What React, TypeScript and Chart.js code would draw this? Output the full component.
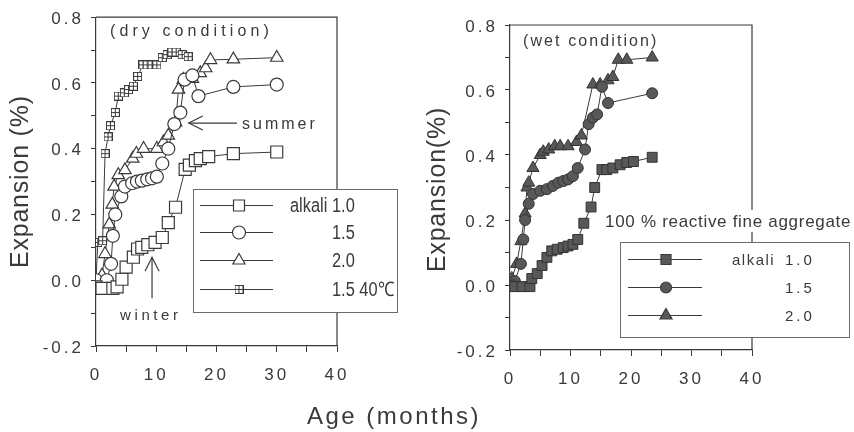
import React, { useEffect, useRef } from 'react';
import { Chart, registerables } from 'chart.js';

Chart.register(...registerables);

const W = 854;
const H = 432;
const FONT = "'Liberation Sans', Arial, Helvetica, sans-serif";
const INK = '#3a3a3a';
const FILL_DARK = '#585858';

// ---- axis settings ----
const X_MIN = 0;
const X_MAX = 40;
const X_STEP = 5;
const X_LABEL_EVERY = 10;
const Y_MIN = -0.2;
const Y_MAX = 0.8;
const Y_STEP = 0.1;

// ---- dry condition (left) ----
const dryMonthsA10 = [0, 1.0, 2.8, 3.5, 4.3, 5.0, 6.2, 6.9, 7.6, 8.6, 9.8, 11.0, 12.0, 13.2, 14.8, 15.5, 16.5, 17.3, 18.7, 22.8, 30.0];
const dryExpA10 = [-0.02, -0.025, -0.025, -0.02, 0.003, 0.04, 0.07, 0.095, 0.1, 0.108, 0.115, 0.13, 0.175, 0.222, 0.337, 0.35, 0.364, 0.37, 0.376, 0.385, 0.39];

const dryMonthsA15 = [0, 1.8, 2.5, 2.8, 3.2, 4.2, 4.8, 6.0, 6.8, 7.6, 8.5, 9.3, 10.1, 11.0, 12.0, 13.0, 14.0, 14.7, 16.0, 17.0, 22.8, 30.0];
const dryExpA15 = [0, 0.0, 0.05, 0.135, 0.2, 0.255, 0.285, 0.295, 0.3, 0.303, 0.307, 0.31, 0.315, 0.355, 0.4, 0.475, 0.51, 0.61, 0.623, 0.56, 0.588, 0.595];

const dryMonthsA20 = [0, 1.0, 1.5, 2.2, 2.7, 3.0, 3.7, 4.8, 6.1, 6.7, 7.9, 10.1, 11.2, 12.0, 13.2, 13.7, 14.5, 16.0, 17.3, 18.2, 19.0, 22.8, 30.0];
const dryExpA20 = [0, 0.015, 0.08, 0.17, 0.23, 0.285, 0.32, 0.335, 0.37, 0.385, 0.4, 0.4, 0.42, 0.44, 0.48, 0.58, 0.61, 0.613, 0.63, 0.645, 0.67, 0.672, 0.677];

const dryMonthsA15H = [0, 0.3, 1.1, 1.5, 2.0, 2.4, 3.2, 3.7, 4.7, 5.4, 6.2, 6.9, 7.8, 8.5, 9.3, 10.1, 11.0, 11.8, 12.6, 13.3, 14.3, 15.3];
const dryExpA15H = [0, 0.115, 0.12, 0.385, 0.436, 0.47, 0.51, 0.56, 0.57, 0.58, 0.59, 0.62, 0.655, 0.655, 0.655, 0.655, 0.677, 0.686, 0.694, 0.694, 0.686, 0.68];

// ---- wet condition (right) ----
const wetMonthsA10 = [0, 0.8, 2.0, 3.3, 3.6, 4.5, 5.3, 6.1, 6.9, 7.8, 8.8, 9.6, 10.4, 11.2, 12.2, 13.4, 14.0, 15.2, 16.0, 17.0, 18.2, 19.3, 20.4, 23.5];
const wetExpA10 = [0, -0.005, -0.005, -0.005, 0.02, 0.035, 0.06, 0.085, 0.105, 0.11, 0.115, 0.12, 0.125, 0.14, 0.19, 0.24, 0.3, 0.355, 0.355, 0.36, 0.37, 0.377, 0.38, 0.393];

const wetMonthsA15 = [0, 0.8, 1.8, 2.2, 2.5, 3.1, 3.8, 5.0, 6.1, 7.1, 8.0, 8.8, 9.6, 10.4, 11.2, 12.4, 13.0, 13.7, 14.4, 15.2, 16.2, 23.5];
const wetExpA15 = [0, 0.012, 0.065, 0.14, 0.2, 0.25, 0.28, 0.29, 0.295, 0.305, 0.315, 0.32, 0.325, 0.335, 0.36, 0.417, 0.495, 0.515, 0.525, 0.61, 0.56, 0.59];

const wetMonthsA20 = [0, 0.3, 1.1, 1.8, 2.5, 2.8, 3.1, 3.8, 5.0, 5.5, 6.4, 7.4, 8.3, 9.6, 11.0, 11.8, 13.7, 14.9, 16.2, 17.0, 17.9, 19.3, 23.5];
const wetExpA20 = [0, 0.02, 0.065, 0.135, 0.22, 0.3, 0.315, 0.36, 0.4, 0.41, 0.417, 0.427, 0.427, 0.427, 0.44, 0.46, 0.617, 0.617, 0.63, 0.64, 0.693, 0.693, 0.7];

const dryLabels = ['alkali 1.0', '1.5', '2.0', '1.5 40\u2103'];
const wetLabels = ['alkali 1.0', '1.5', '2.0'];

const zip = (xs: number[], ys: number[]) => xs.map((x, i) => ({ x, y: ys[i] }));

function makeCrossSquare(size: number) {
  const c = document.createElement('canvas');
  c.width = size;
  c.height = size;
  const g = c.getContext('2d')!;
  g.fillStyle = '#fff';
  g.fillRect(0, 0, size, size);
  g.strokeStyle = INK;
  g.lineWidth = 1;
  g.strokeRect(0.5, 0.5, size - 1, size - 1);
  const m = Math.floor(size / 2) + 0.5;
  g.beginPath();
  g.moveTo(0.5, m);
  g.lineTo(size - 0.5, m);
  g.moveTo(m, 0.5);
  g.lineTo(m, size - 0.5);
  g.stroke();
  return c;
}

function txt(ctx: any, s: string, x: number, y: number, size: number, spacing: number, align = 'left', sx = 1) {
  ctx.save();
  ctx.translate(x, y);
  ctx.scale(sx, 1);
  ctx.font = `${size}px ${FONT}`;
  ctx.letterSpacing = `${spacing}px`;
  ctx.fillStyle = INK;
  ctx.textAlign = align;
  ctx.textBaseline = 'alphabetic';
  ctx.fillText(s, 0, 0);
  ctx.restore();
}

function marker(ctx: any, kind: string, x: number, y: number, filled: boolean, cross?: HTMLCanvasElement) {
  ctx.save();
  ctx.strokeStyle = INK;
  ctx.lineWidth = 1.2;
  ctx.fillStyle = filled ? FILL_DARK : '#fff';
  ctx.beginPath();
  if (kind === 'rect') {
    const s = filled ? 5 : 5.5;
    ctx.rect(x - s, y - s, 2 * s, 2 * s);
  } else if (kind === 'circle') {
    ctx.arc(x, y, filled ? 5.5 : 6.5, 0, Math.PI * 2);
  } else if (kind === 'triangle') {
    const r = 7;
    ctx.moveTo(x, y - r);
    ctx.lineTo(x + r * Math.sin((2 * Math.PI) / 3), y - r * Math.cos((2 * Math.PI) / 3));
    ctx.lineTo(x + r * Math.sin((4 * Math.PI) / 3), y - r * Math.cos((4 * Math.PI) / 3));
    ctx.closePath();
  } else if (kind === 'cross' && cross) {
    ctx.drawImage(cross, x - cross.width / 2, y - cross.height / 2);
    ctx.restore();
    return;
  }
  ctx.fill();
  ctx.stroke();
  ctx.restore();
}

function scalesFor(yWidth: number, xHeight: number) {
  const tickFont = { family: FONT, size: 17 };
  return {
    x: {
      type: 'linear',
      min: X_MIN,
      max: X_MAX,
      afterFit: (s: any) => { s.height = xHeight; },
      ticks: {
        stepSize: X_STEP,
        autoSkip: false,
        maxRotation: 0,
        font: tickFont,
        color: INK,
        padding: 13,
        callback: (v: any) => (Number(v) % X_LABEL_EVERY === 0 ? String(v) : ''),
      },
      grid: { drawOnChartArea: false, drawTicks: true, tickLength: 6, color: INK, lineWidth: 1 },
      border: { color: INK, width: 1.2 },
    },
    y: {
      type: 'linear',
      min: Y_MIN,
      max: Y_MAX,
      afterFit: (s: any) => { s.width = yWidth; },
      ticks: {
        stepSize: Y_STEP,
        autoSkip: false,
        font: tickFont,
        color: INK,
        padding: 7,
        labelOffset: 2,
        callback: (v: any) => {
          const k = Math.round(Number(v) * 10);
          return k % 2 === 0 ? (k / 10).toFixed(1) : '';
        },
      },
      grid: { drawOnChartArea: false, drawTicks: true, tickLength: 5, color: INK, lineWidth: 1 },
      border: { color: INK, width: 1.2 },
    },
  };
}

function frame(ctx: any, a: any) {
  ctx.save();
  ctx.strokeStyle = INK;
  ctx.lineWidth = 1.2;
  ctx.beginPath();
  ctx.moveTo(a.left, a.top);
  ctx.lineTo(a.right, a.top);
  ctx.lineTo(a.right, a.bottom);
  ctx.stroke();
  ctx.restore();
}

function legendBox(ctx: any, x: number, y: number, w: number, h: number) {
  ctx.save();
  ctx.fillStyle = '#fff';
  ctx.fillRect(x, y, w, h);
  ctx.strokeStyle = '#6a6a6a';
  ctx.lineWidth = 1;
  ctx.strokeRect(x + 0.5, y + 0.5, w, h);
  ctx.restore();
}

function legendLine(ctx: any, x1: number, x2: number, y: number) {
  ctx.save();
  ctx.strokeStyle = INK;
  ctx.lineWidth = 1;
  ctx.beginPath();
  ctx.moveTo(x1, y + 0.5);
  ctx.lineTo(x2, y + 0.5);
  ctx.stroke();
  ctx.restore();
}

function arrowHead(ctx: any, tx: number, ty: number, dx: number, dy: number) {
  const L = 14;
  const Wd = 7;
  const bx = tx - dx * L;
  const by = ty - dy * L;
  ctx.beginPath();
  ctx.moveTo(bx - dy * Wd, by + dx * Wd);
  ctx.lineTo(tx, ty);
  ctx.lineTo(bx + dy * Wd, by - dx * Wd);
  ctx.stroke();
}

function leftConfig(cross: HTMLCanvasElement): any {
  const common = { borderColor: INK, borderWidth: 1, pointBorderColor: INK, pointBorderWidth: 1.2, pointBackgroundColor: '#fff', tension: 0, fill: false };
  const decor = {
    id: 'leftDecor',
    beforeDraw(chart: any) { chart.ctx.letterSpacing = '3px'; },
    afterDraw(chart: any) {
      const { ctx, chartArea: a, scales } = chart;
      const xs = scales.x;
      const ys = scales.y;
      ctx.save();
      ctx.letterSpacing = '0px';
      frame(ctx, a);
      txt(ctx, '(dry condition)', 110, 36, 16, 4.1);

      // summer arrow
      ctx.strokeStyle = INK;
      ctx.lineWidth = 1.2;
      const sy = ys.getPixelForValue(0.478);
      const sTip = xs.getPixelForValue(15.4);
      const sTail = xs.getPixelForValue(23.4);
      ctx.beginPath();
      ctx.moveTo(sTail, sy);
      ctx.lineTo(sTip, sy);
      ctx.stroke();
      arrowHead(ctx, sTip, sy, -1, 0);
      txt(ctx, 'summer', sTail + 5, sy + 6, 16, 3);

      // winter arrow
      const wx = xs.getPixelForValue(9.3);
      const wTip = ys.getPixelForValue(0.07);
      const wTail = ys.getPixelForValue(-0.055);
      ctx.beginPath();
      ctx.moveTo(wx, wTail);
      ctx.lineTo(wx, wTip);
      ctx.stroke();
      arrowHead(ctx, wx, wTip, 0, -1);
      txt(ctx, 'winter', wx - 32, wTail + 22, 15, 3.6);

      // legend (narrow lettering)
      legendBox(ctx, 193, 189, 204, 123);
      const rowsY = [205, 232, 260, 289];
      const kinds = ['rect', 'circle', 'triangle', 'cross'];
      rowsY.forEach((ry, i) => {
        legendLine(ctx, 200, 273, ry);
        marker(ctx, kinds[i], 239, ry + 0.5, false, cross);
      });
      const NX = 0.82;
      txt(ctx, 'alkali', 290, rowsY[0] + 7, 20, 0, 'left', NX);
      txt(ctx, dryLabels[0].split(' ')[1], 332, rowsY[0] + 7, 20, 0, 'left', NX);
      txt(ctx, dryLabels[1], 332, rowsY[1] + 7, 20, 0, 'left', NX);
      txt(ctx, dryLabels[2], 332, rowsY[2] + 7, 20, 0, 'left', NX);
      txt(ctx, dryLabels[3], 332, rowsY[3] + 7, 20, 0, 'left', NX);

      // y title
      ctx.save();
      ctx.translate(28, (a.top + a.bottom) / 2);
      ctx.rotate(-Math.PI / 2);
      txt(ctx, 'Expansion (%)', 0, 0, 25, 0.8, 'center');
      ctx.restore();

      // shared x title
      txt(ctx, 'Age (months)', 307, 424, 24, 2.5);
      ctx.restore();
    },
  };
  return {
    type: 'line',
    data: {
      datasets: [
        { ...common, label: dryLabels[0], data: zip(dryMonthsA10, dryExpA10), pointStyle: 'rect', pointRadius: 8.5 },
        { ...common, label: dryLabels[1], data: zip(dryMonthsA15, dryExpA15), pointStyle: 'circle', pointRadius: 6.5 },
        { ...common, label: dryLabels[2], data: zip(dryMonthsA20, dryExpA20), pointStyle: 'triangle', pointRadius: 7.2 },
        { ...common, label: dryLabels[3], data: zip(dryMonthsA15H, dryExpA15H), pointStyle: cross, pointRadius: 4.5 },
      ],
    },
    options: {
      responsive: false,
      maintainAspectRatio: false,
      devicePixelRatio: 1,
      animation: false,
      events: [],
      layout: { padding: { left: 0, top: 15, right: W - 337, bottom: 0 } },
      plugins: { legend: { display: false }, tooltip: { enabled: false }, title: { display: false } },
      scales: scalesFor(96, 86),
    },
    plugins: [decor],
  };
}

function rightConfig(): any {
  const common = { borderColor: INK, borderWidth: 1, pointBorderColor: '#333', pointBorderWidth: 1, pointBackgroundColor: FILL_DARK, tension: 0, fill: false };
  const decor = {
    id: 'rightDecor',
    beforeDraw(chart: any) { chart.ctx.letterSpacing = '3px'; },
    afterDraw(chart: any) {
      const { ctx, chartArea: a } = chart;
      ctx.save();
      ctx.letterSpacing = '0px';
      frame(ctx, a);
      txt(ctx, '(wet condition)', 523, 46, 16, 2.1);

      ctx.fillStyle = '#fff';
      ctx.fillRect(604, 210, 250, 22);
      txt(ctx, '100 % reactive fine aggregate', 605, 227, 17, 0.7);

      legendBox(ctx, 620, 242, 229, 95);
      const rowsY = [259, 287, 315];
      const kinds = ['rect', 'circle', 'triangle'];
      rowsY.forEach((ry, i) => {
        legendLine(ctx, 628, 702, ry);
        marker(ctx, kinds[i], 666, ry + 0.5, true);
      });
      txt(ctx, 'alkali', 732, rowsY[0] + 6, 15, 1.5);
      txt(ctx, wetLabels[0].split(' ')[1], 785, rowsY[0] + 6, 15, 3);
      txt(ctx, wetLabels[1], 785, rowsY[1] + 6, 15, 3);
      txt(ctx, wetLabels[2], 785, rowsY[2] + 6, 15, 3);

      ctx.save();
      ctx.translate(445, (a.top + a.bottom) / 2 + 2);
      ctx.rotate(-Math.PI / 2);
      txt(ctx, 'Expansion(%)', 0, 0, 25, 0.8, 'center');
      ctx.restore();
      ctx.restore();
    },
  };
  return {
    type: 'line',
    data: {
      datasets: [
        { ...common, label: wetLabels[0], data: zip(wetMonthsA10, wetExpA10), pointStyle: 'rect', pointRadius: 7 },
        { ...common, label: wetLabels[1], data: zip(wetMonthsA15, wetExpA15), pointStyle: 'circle', pointRadius: 5.5 },
        { ...common, label: wetLabels[2], data: zip(wetMonthsA20, wetExpA20), pointStyle: 'triangle', pointRadius: 7 },
      ],
    },
    options: {
      responsive: false,
      maintainAspectRatio: false,
      devicePixelRatio: 1,
      animation: false,
      events: [],
      layout: { padding: { left: 510 - 96, top: 25, right: W - 752, bottom: 0 } },
      plugins: { legend: { display: false }, tooltip: { enabled: false }, title: { display: false } },
      scales: scalesFor(96, 82),
    },
    plugins: [decor],
  };
}

export default function App() {
  const leftRef = useRef<HTMLCanvasElement>(null);
  const rightRef = useRef<HTMLCanvasElement>(null);
  useEffect(() => {
    const cross = makeCrossSquare(9);
    const c1 = new Chart(leftRef.current as HTMLCanvasElement, leftConfig(cross));
    const c2 = new Chart(rightRef.current as HTMLCanvasElement, rightConfig());
    return () => {
      c1.destroy();
      c2.destroy();
    };
  }, []);
  return (
    <div style={{ position: 'absolute', left: 0, top: 0, width: W, height: H, background: '#fff', overflow: 'hidden' }}>
      <canvas ref={leftRef} width={W} height={H} style={{ position: 'absolute', left: 0, top: 0 }} />
      <canvas ref={rightRef} width={W} height={H} style={{ position: 'absolute', left: 0, top: 0 }} />
    </div>
  );
}
